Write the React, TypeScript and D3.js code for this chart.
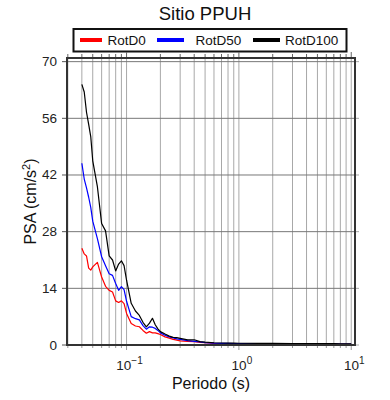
import * as d3 from 'd3';

const periods = [
  0.040, 0.042, 0.044, 0.046, 0.048, 0.050, 0.055, 0.060, 0.065, 0.070,
  0.075, 0.080, 0.085, 0.090, 0.095, 0.10, 0.11, 0.12, 0.13, 0.14,
  0.15, 0.16, 0.17, 0.18, 0.19, 0.20, 0.22, 0.24, 0.26, 0.28,
  0.30, 0.35, 0.40, 0.45, 0.50, 0.60, 0.70, 0.80, 0.90, 1.0,
  1.5, 2.0, 3.0, 4.0, 5.0, 6.0, 7.0, 8.0, 10.0,
];

const rotD0 = [
  23.9, 22.5, 22.0, 19.0, 18.5, 19.3, 20.4, 16.8, 14.5, 13.5,
  13.1, 10.9, 10.5, 10.9, 10.2, 7.8, 5.3, 4.7, 4.5, 3.6,
  2.9, 3.3, 3.0, 3.0, 2.8, 2.6, 2.0, 1.7, 1.4, 1.2,
  1.0, 0.9, 0.8, 0.65, 0.55, 0.4, 0.35, 0.32, 0.3, 0.28,
  0.26, 0.25, 0.23, 0.22, 0.21, 0.2, 0.2, 0.19, 0.18,
];

const rotD50 = [
  44.9, 41.0, 38.8, 36.5, 34.0, 30.6, 26.3, 21.8, 19.6, 17.6,
  17.2, 15.2, 13.5, 14.4, 13.7, 10.8, 7.0, 6.5, 6.2, 4.8,
  3.9, 4.5, 4.4, 4.1, 3.6, 3.0, 2.4, 2.0, 1.75, 1.5,
  1.4, 1.1, 0.9, 0.75, 0.6, 0.45, 0.4, 0.38, 0.36, 0.35,
  0.33, 0.32, 0.3, 0.28, 0.27, 0.26, 0.27, 0.25, 0.23,
];

const rotD100 = [
  64.4, 62.5, 57.5, 54.5, 51.5, 45.5, 39.1, 30.0, 28.2, 22.0,
  21.0, 18.3, 20.0, 20.8, 19.6, 16.0, 10.3, 8.4, 7.3, 5.6,
  4.5, 5.4, 6.6, 5.0, 4.0, 3.3, 2.7, 2.2, 1.9, 1.8,
  1.65, 1.25, 1.3, 0.85, 0.7, 0.55, 0.5, 0.48, 0.45, 0.43,
  0.4, 0.38, 0.36, 0.34, 0.33, 0.32, 0.35, 0.3, 0.28,
];

const seriesNames = ['RotD0', 'RotD50', 'RotD100'];
const seriesColors = ['#ff0000', '#0000ff', '#000000'];
const yTicks = [0, 14, 28, 42, 56, 70];
const xMajor = [0.1, 1, 10];
const xMajorExp = ['\u22121', '0', '1'];

const FONT = '"Liberation Sans", Arial, sans-serif';

export default function App() {
  const left = 67, right = 355, top = 58, bottom = 345;

  const x = d3.scaleLog().domain([0.0295, 10.8]).range([left, right]);
  const y = d3.scaleLinear().domain([0, 70.9]).range([bottom, top]);

  // minor + major grid positions for the log axis
  const gridX: number[] = [];
  for (let e = -2; e <= 1; e++) {
    for (let m = 1; m <= 9; m++) {
      const v = m * Math.pow(10, e);
      if (v >= 0.0295 && v <= 10.8) gridX.push(v);
    }
  }

  const line = d3.line<number>()
    .x((_, i) => x(periods[i]))
    .y((d) => y(d));

  const data = [rotD0, rotD50, rotD100];

  return (
    <svg width={390} height={400}
      style={{ position: 'absolute', left: 0, top: 0, background: '#fff' }}
      fontFamily={FONT}>
      {/* title */}
      <text x={205} y={20} textAnchor="middle" fontSize={18.5} fill="#111">Sitio PPUH</text>

      {/* legend */}
      <rect x={73.5} y={29} width={273} height={22.5} fill="#fff" stroke="#111" strokeWidth={2} />
      {[80, 157, 253].map((lx, i) => (
        <line key={seriesNames[i]} x1={lx} x2={lx + (i === 0 ? 22 : 27)} y1={40} y2={40}
          stroke={seriesColors[i]} strokeWidth={4} />
      ))}
      {[107.5, 195.5, 285].map((tx, i) => (
        <text key={'t' + i} x={tx} y={45} fontSize={13.5} fill="#111">{seriesNames[i]}</text>
      ))}

      {/* grid */}
      {gridX.map((v) => (
        <line key={'gx' + v} x1={x(v)} x2={x(v)} y1={top} y2={bottom}
          stroke="#a8a8a8" strokeWidth={1} />
      ))}
      {yTicks.map((v) => (
        <line key={'gy' + v} x1={left} x2={right} y1={y(v)} y2={y(v)}
          stroke="#777" strokeWidth={1} />
      ))}

      {/* ticks on top and bottom */}
      {gridX.map((v) => {
        const major = xMajor.includes(v);
        return (
          <g key={'tk' + v}>
            <line x1={x(v)} x2={x(v)} y1={top} y2={top - (major ? 6 : 4)} stroke="#666" />
            <line x1={x(v)} x2={x(v)} y1={bottom} y2={bottom + (major ? 5 : 3)} stroke="#999" />
          </g>
        );
      })}

      {/* y ticks */}
      {yTicks.map((v) => (
        <g key={'yt' + v}>
          <line x1={left - 5} x2={left} y1={y(v)} y2={y(v)} stroke="#555" />
          <line x1={right} x2={right + 4} y1={y(v)} y2={y(v)} stroke="#aaa" />
          <text x={57} y={y(v) + 4.5} textAnchor="end" fontSize={13.5} fill="#222">{v}</text>
        </g>
      ))}

      {/* curves */}
      {data.map((s, i) => (
        <path key={'c' + i} d={line(s) ?? ''} fill="none"
          stroke={seriesColors[i]} strokeWidth={1.2} strokeLinejoin="round" />
      ))}

      {/* frame */}
      <rect x={left} y={top} width={right - left} height={bottom - top}
        fill="none" stroke="#333" strokeWidth={2} />

      {/* x tick labels */}
      {xMajor.map((v, i) => (
        <text key={'xl' + v} x={x(v) + 3} y={370} textAnchor="middle" fontSize={13.5} fill="#222">
          10<tspan dy={-6} fontSize={10}>{xMajorExp[i]}</tspan>
        </text>
      ))}

      {/* axis titles */}
      <text x={211} y={389} textAnchor="middle" fontSize={16} fill="#111">Periodo (s)</text>
      <text transform={`translate(36, ${(top + bottom) / 2}) rotate(-90)`}
        textAnchor="middle" fontSize={16} fill="#111">
        PSA (cm/s<tspan dy={-6} fontSize={11}>2</tspan><tspan dy={6}>)</tspan>
      </text>
    </svg>
  );
}
